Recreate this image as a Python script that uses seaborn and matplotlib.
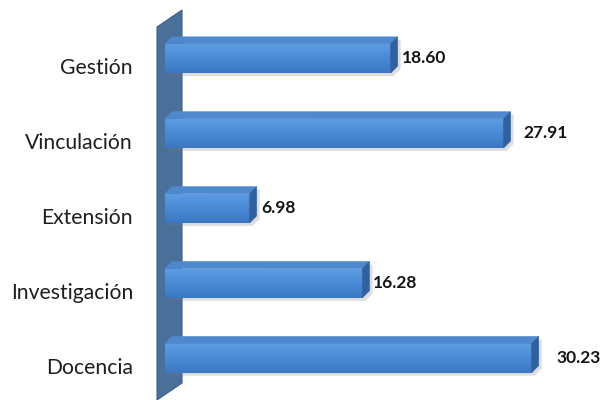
import numpy as np
import pandas as pd
import matplotlib
matplotlib.use("Agg")
import matplotlib.pyplot as plt
import matplotlib.transforms as mtransforms
from matplotlib.patches import Polygon
from matplotlib.colors import LinearSegmentedColormap
import seaborn as sns

# Share of activities by area (%)
categories = ["Gestión", "Vinculación", "Extensión", "Investigación", "Docencia"]
values = [18.60, 27.91, 6.98, 16.28, 30.23]
value_labels = ["18.60", "27.91", "6.98", "16.28", "30.23"]

# gap (px) between the end of each bar and its value label
label_gap_px = [11, 20, 12, 10, 25]

sns.set_theme(style="white")
plt.rcParams["font.family"] = ["Lato", "DejaVu Sans"]

W, H = 605, 400
fig = plt.figure(figsize=(W / 100, H / 100), dpi=100)
fig.patch.set_facecolor("white")

X_MAX = 36
ax = fig.add_axes([165 / W, 4.5 / H, 436.7 / W, 374.5 / H])
ax.set_facecolor("none")

df = pd.DataFrame({"area": categories, "pct": values})
sns.barplot(data=df, x="pct", y="area", orient="h", width=0.39,
            color="#4a8ad6", saturation=1, ax=ax, zorder=3)
ax.set_xlim(0, X_MAX)
ax.set_ylim(4.5, -0.5)

# left 3D wall, drawn in figure pixels
wall_px = [(157, 27), (182, 10), (182, 383), (157, 400)]
wall = Polygon([(x / W, 1 - y / H) for x, y in wall_px], closed=True,
               transform=fig.transFigure, facecolor="#4a6f99",
               edgecolor="#3d5f86", linewidth=0.8, clip_on=False, zorder=0.5)
ax.add_patch(wall)

# pixel -> data scale for the depth faces
fig.canvas.draw()
p0 = ax.transData.transform((0, 0))
p1 = ax.transData.transform((1, 1))
px_x = abs(p1[0] - p0[0])
px_y = abs(p1[1] - p0[1])
depth = 7
dx = depth / px_x
dy = depth / px_y

front_cmap = LinearSegmentedColormap.from_list("front", ["#5e9ee3", "#4a8ad6", "#3b78c3"])
grad = np.linspace(0, 1, 64).reshape(-1, 1)

bars = list(ax.patches)[:len(values)]
for bar in bars:
    x0, y0 = bar.get_x(), bar.get_y()
    w, h = bar.get_width(), bar.get_height()
    bar.set_facecolor("none")
    bar.set_edgecolor("none")

    # soft drop shadow
    sx, sy = 3 / px_x, 3 / px_y
    shadow = Polygon([(x0 + sx, y0 + sy), (x0 + w + dx + sx, y0 - dy + sy),
                      (x0 + w + dx + sx, y0 + h - dy + sy), (x0 + w + sx, y0 + h + sy),
                      (x0 + sx, y0 + h + sy)], closed=True,
                     facecolor="#7a7a7a", alpha=0.25, edgecolor="none", zorder=2)
    ax.add_patch(shadow)

    # front face with vertical gradient
    im = ax.imshow(grad, extent=[x0, x0 + w, y0 + h, y0], origin="upper",
                   aspect="auto", cmap=front_cmap, zorder=3, interpolation="bilinear")
    im.set_clip_path(bar)

    # top face
    top = Polygon([(x0, y0), (x0 + w, y0), (x0 + w + dx, y0 - dy), (x0 + dx, y0 - dy)],
                  closed=True, facecolor="#4e88cf", edgecolor="#4e88cf",
                  linewidth=0.4, zorder=3.5)
    ax.add_patch(top)

    # right side face
    side = Polygon([(x0 + w, y0), (x0 + w + dx, y0 - dy), (x0 + w + dx, y0 + h - dy),
                    (x0 + w, y0 + h)], closed=True, facecolor="#2f609f",
                   edgecolor="#2f609f", linewidth=0.4, zorder=3.5)
    ax.add_patch(side)

ax.set_xlim(0, X_MAX)
ax.set_ylim(4.5, -0.5)

for bar, text, gap in zip(bars, value_labels, label_gap_px):
    yc = bar.get_y() + bar.get_height() / 2
    ax.annotate(text, xy=(bar.get_x() + bar.get_width(), yc),
                xytext=(gap * 0.72, 0), textcoords="offset points",
                ha="left", va="center", fontsize=12.5, fontweight="bold",
                color="#141414", zorder=5)

ax.set_xlabel("")
ax.set_ylabel("")
ax.set_xticks([])
ax.tick_params(axis="y", length=0, pad=23, labelsize=15.2, labelcolor="#1e1e1e")
shift = mtransforms.ScaledTranslation(0, -8 / 100, fig.dpi_scale_trans)
for lab in ax.get_yticklabels():
    lab.set_transform(lab.get_transform() + shift)
sns.despine(ax=ax, left=True, bottom=True)

fig.savefig("out.png", dpi=100)
